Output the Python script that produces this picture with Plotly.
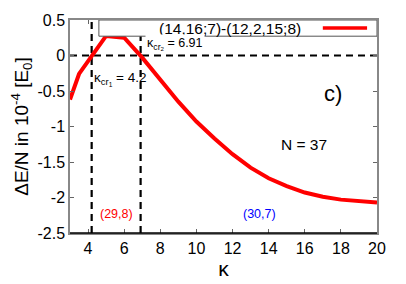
import plotly.graph_objects as go

kappa = [3, 3.5, 5, 6, 7, 8, 9, 10, 11, 12, 13, 14, 15, 16, 17, 18, 19, 20]
dE = [-0.62, -0.26, 0.276, 0.25, -0.03, -0.34, -0.65, -0.93, -1.17, -1.39,
      -1.58, -1.73, -1.84, -1.93, -1.99, -2.03, -2.055, -2.07]
kappa_cr = [4.2, 6.91]
series_name = "(14,16;7)-(12,2,15;8)"
x_ticks = [4, 6, 8, 10, 12, 14, 16, 18, 20]
y_ticks = [0.5, 0, -0.5, -1, -1.5, -2, -2.5]

FONT = "Liberation Sans, Arial, sans-serif"
fig = go.Figure()

DASH = "7px,5px"
fig.add_trace(go.Scatter(x=[3, 20], y=[0, 0], mode="lines",
                         line=dict(color="black", width=2.2, dash=DASH),
                         showlegend=False, hoverinfo="skip"))
for kc in kappa_cr:
    fig.add_trace(go.Scatter(x=[kc, kc], y=[-2.5, 0.5], mode="lines",
                             line=dict(color="black", width=2.2, dash=DASH),
                             showlegend=False, hoverinfo="skip"))

# legend box
fig.add_shape(type="rect", xref="x", yref="y", x0=4.6, x1=20, y0=0.272, y1=0.5,
              fillcolor="white", line=dict(color="#555", width=1), layer="above")
fig.add_shape(type="line", xref="x", yref="y", x0=17.0, x1=19.45, y0=0.386, y1=0.386,
              line=dict(color="red", width=3.5), layer="above")
# bottom axis line in black
fig.add_shape(type="line", xref="paper", yref="paper", x0=0, x1=1, y0=0, y1=0,
              line=dict(color="black", width=1.5), layer="above")

fig.add_trace(go.Scatter(x=kappa, y=dE, mode="lines",
                         line=dict(color="red", width=4),
                         name=series_name, showlegend=False))

annos = [
    dict(x=11.85, y=0.386, text=series_name, font=dict(size=15.5, color="black")),
    dict(x=8.84, y=0.165, text="κ<sub>cr<sub>2</sub></sub> = 6.91",
         font=dict(size=12.5, color="black"), bgcolor="white"),
    dict(x=5.77, y=-0.33, text="κ<sub>cr<sub>1</sub></sub> = 4.2",
         font=dict(size=13.5, color="black")),
    dict(x=17.59, y=-0.533, text="c)", font=dict(size=22, color="black")),
    dict(x=15.96, y=-1.255, text="N = 37", font=dict(size=15.5, color="black")),
    dict(x=5.57, y=-2.226, text="(29,8)", font=dict(size=12.5, color="red")),
    dict(x=13.49, y=-2.226, text="(30,7)", font=dict(size=12.5, color="blue")),
]
for a in annos:
    fig.add_annotation(xref="x", yref="y", showarrow=False, **a)

fig.update_layout(
    width=406, height=284,
    margin=dict(l=70, r=29, t=20, b=40),
    paper_bgcolor="white", plot_bgcolor="white",
    font=dict(family=FONT, color="black"),
    showlegend=False,
)
fig.update_xaxes(range=[3, 20], tickvals=x_ticks, ticks="inside", ticklen=4,
                 tickcolor="#666", mirror="ticks", showline=True, linecolor="#888",
                 linewidth=1.5, showgrid=False, zeroline=False,
                 tickfont=dict(size=16, family=FONT),
                 title=dict(text="κ", font=dict(size=21, family=FONT), standoff=0))
fig.update_yaxes(range=[-2.5, 0.5], tickvals=y_ticks,
                 ticktext=[str(v) for v in y_ticks],
                 ticks="inside", ticklen=4, tickcolor="#666", mirror="ticks",
                 showline=True, linecolor="#888", linewidth=1.5, showgrid=False,
                 zeroline=False, tickfont=dict(size=16, family=FONT),
                 title=dict(text="ΔE/N in 10<sup>-4</sup> [E<sub>0</sub>]",
                            font=dict(size=19, family=FONT), standoff=4))

fig.write_html("out.html", config={"displayModeBar": False},
               post_script="document.body.style.margin='0';")
